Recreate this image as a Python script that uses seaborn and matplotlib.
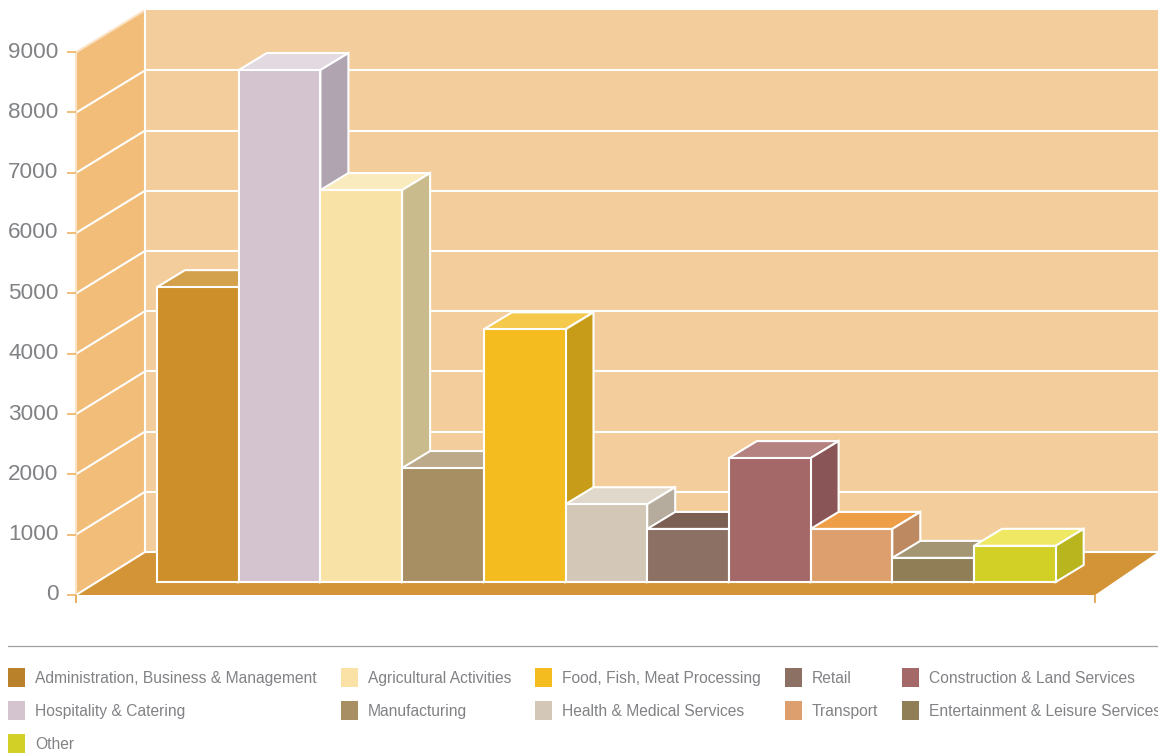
import matplotlib
matplotlib.use("Agg")
import matplotlib.pyplot as plt
from matplotlib.patches import Patch, Polygon
from matplotlib.transforms import ScaledTranslation
import pandas as pd
import seaborn as sns

sectors = ["Administration, Business & Management", "Hospitality & Catering",
           "Agricultural Activities", "Manufacturing", "Food, Fish, Meat Processing",
           "Health & Medical Services", "Retail", "Construction & Land Services",
           "Transport", "Entertainment & Leisure Services", "Other"]
values = [4890, 8490, 6500, 1890, 4190, 1290, 880, 2055, 880, 400, 600]
front_colors = ["#CC8F2A", "#D3C4CF", "#F9E2A6", "#A88F63", "#F4BC1F", "#D3C8B7",
                "#8C7063", "#A56868", "#DE9F6E", "#8F7E56", "#D2D026"]
top_colors = ["#D3A04B", "#E3D9E0", "#FAEBBE", "#BCAA8B", "#F5C94B", "#E0D8CB",
              "#7A5F52", "#B58282", "#EF9E48", "#A49672", "#EFE862"]
side_colors = ["#B07C25", "#B0A4B0", "#CABB8C", "#8F7A55", "#C69C18", "#B5AC9D",
               "#7A5F52", "#8A5556", "#BC8960", "#7D6E4B", "#B8B51E"]
legend_colors = ["#B8812A", "#D3C4CF", "#FAE2A6", "#A88F63", "#F4BC1F", "#D3C8B7",
                 "#8C7063", "#A56868", "#DE9F6E", "#8F7E56", "#D2D026"]
legend_order = [0, 1, 10, 2, 3, 4, 5, 6, 8, 7, 9]
y_ticks = list(range(0, 10000, 1000))

W, H = 1158, 755
BAR_W = 81.7      # px per category
SCALE = 0.0603    # px per unit
BAR_LEFT, BAR_BASE = 157, 582
DEPTH_X, DEPTH_Y = 28, 17
WALL_L, WALL_R = 76, 145
FRONT_ZERO, BACK_ZERO = 595, 552

WHITE_LW = 1.5
GREY = "#808285"
BACK_WALL = "#F3CD9B"
LEFT_WALL = "#F2BD78"
FLOOR = "#D39437"
TICK = "#F2BD78"

sns.set_theme(style="white")
plt.rcParams["font.family"] = ["Liberation Sans", "DejaVu Sans"]

fig = plt.figure(figsize=(W / 100, H / 100), dpi=100, facecolor="white")
ax = fig.add_axes([0, 0, 1, 1])


def xd(px):
    return (px - BAR_LEFT) / BAR_W - 0.5


def yd(py):
    return (BAR_BASE - py) / SCALE


df = pd.DataFrame({"sector": sectors, "value": values})
sns.barplot(data=df, x="sector", y="value", hue="sector", order=sectors,
            hue_order=sectors, palette=front_colors, width=1.0, legend=False,
            saturation=1, ax=ax)
bars = sorted(ax.patches, key=lambda p: p.get_x())
ax.set_xlim(xd(0), xd(W))
ax.set_ylim(yd(H), yd(0))
ax.axis("off")

# Room: back wall, left wall and floor
ax.add_patch(Polygon([(xd(WALL_R), yd(10)), (xd(W), yd(10)), (xd(W), yd(BACK_ZERO)),
                      (xd(WALL_R), yd(BACK_ZERO))], fc=BACK_WALL, ec="none", zorder=1))
ax.add_patch(Polygon([(xd(WALL_L), yd(52)), (xd(WALL_R), yd(10)), (xd(WALL_R), yd(BACK_ZERO)),
                      (xd(WALL_L), yd(FRONT_ZERO))], fc=LEFT_WALL, ec="none", zorder=1))
ax.add_patch(Polygon([(xd(WALL_L), yd(FRONT_ZERO)), (xd(WALL_R), yd(BACK_ZERO)),
                      (xd(W), yd(BACK_ZERO)), (xd(1095), yd(FRONT_ZERO))],
                     fc=FLOOR, ec="none", zorder=1))

# Gridlines wrap around the left wall and run along the back wall
for tick in y_ticks:
    front_y = FRONT_ZERO - tick * SCALE
    back_y = BACK_ZERO - tick * 0.0602
    color = "#FBE3C5" if tick == 9000 else "white"
    ax.plot([xd(WALL_L), xd(WALL_R)], [yd(front_y), yd(back_y)], color=color,
            lw=WHITE_LW, zorder=2, solid_capstyle="butt")
    if tick < 9000:
        ax.plot([xd(WALL_R), xd(W)], [yd(back_y), yd(back_y)], color="white",
                lw=WHITE_LW, zorder=2)
ax.plot([xd(WALL_R), xd(WALL_R)], [yd(10), yd(BACK_ZERO)], color="white", lw=WHITE_LW, zorder=2)
ax.plot([xd(WALL_L), xd(WALL_L)], [yd(52), yd(FRONT_ZERO)], color="#FBE3C5", lw=WHITE_LW, zorder=2)

# Extrude each bar backwards; later bars sit in front of earlier ones
dx, dy = DEPTH_X / BAR_W, DEPTH_Y / SCALE
for i, bar in enumerate(bars):
    x0, x1 = bar.get_x(), bar.get_x() + bar.get_width()
    h = bar.get_height()
    z = 10 + i
    bar.set_edgecolor("white")
    bar.set_linewidth(WHITE_LW)
    bar.set_zorder(z + 0.5)
    ax.add_patch(Polygon([(x0, h), (x1, h), (x1 + dx, h + dy), (x0 + dx, h + dy)],
                         fc=top_colors[i], ec="white", lw=WHITE_LW, zorder=z))
    ax.add_patch(Polygon([(x1, 0), (x1 + dx, dy), (x1 + dx, h + dy), (x1, h)],
                         fc=side_colors[i], ec="white", lw=WHITE_LW, zorder=z))

# Small ticks under the floor's front corners
for px in (WALL_L, 1095):
    ax.plot([xd(px), xd(px)], [yd(FRONT_ZERO), yd(603)], color="#E3A64F", lw=1.3,
            zorder=3, solid_capstyle="butt")

# Value axis along the front edge of the left wall
y_axis = fig.add_axes([WALL_L / W, 1 - FRONT_ZERO / H, 0.001, (FRONT_ZERO - 52) / H])
y_axis.patch.set_alpha(0)
y_axis.set_ylim(0, 9000)
y_axis.set_xticks([])
y_axis.set_yticks(y_ticks)
y_axis.set_yticklabels([str(t) for t in y_ticks], fontsize=16.2, color=GREY)
y_axis.tick_params(axis="y", length=6.5, width=1.4, color=TICK, pad=6, left=True)
label_shift = ScaledTranslation(0, 2.5 / 100, fig.dpi_scale_trans)
for label in y_axis.get_yticklabels():
    label.set_transform(label.get_transform() + label_shift)
for spine in y_axis.spines.values():
    spine.set_visible(False)

# Separator above the legend
fig.add_artist(plt.Line2D([8 / W, 1], [1 - 646 / H] * 2, color="#A0A0A0", lw=0.9))

handles = [Patch(fc=legend_colors[i], ec="none", label=sectors[i]) for i in legend_order]
FS_PX = 15.6
leg = fig.legend(handles=handles, ncol=5, loc="upper left",
                 bbox_to_anchor=(8 / W, 1 - 668 / H), frameon=False,
                 fontsize=FS_PX * 0.72, labelcolor=GREY, borderpad=0, borderaxespad=0,
                 handlelength=17 / FS_PX, handleheight=1.5,
                 handletextpad=10 / FS_PX, columnspacing=24 / FS_PX,
                 labelspacing=14 / FS_PX)

fig.savefig("out.png", dpi=100)
